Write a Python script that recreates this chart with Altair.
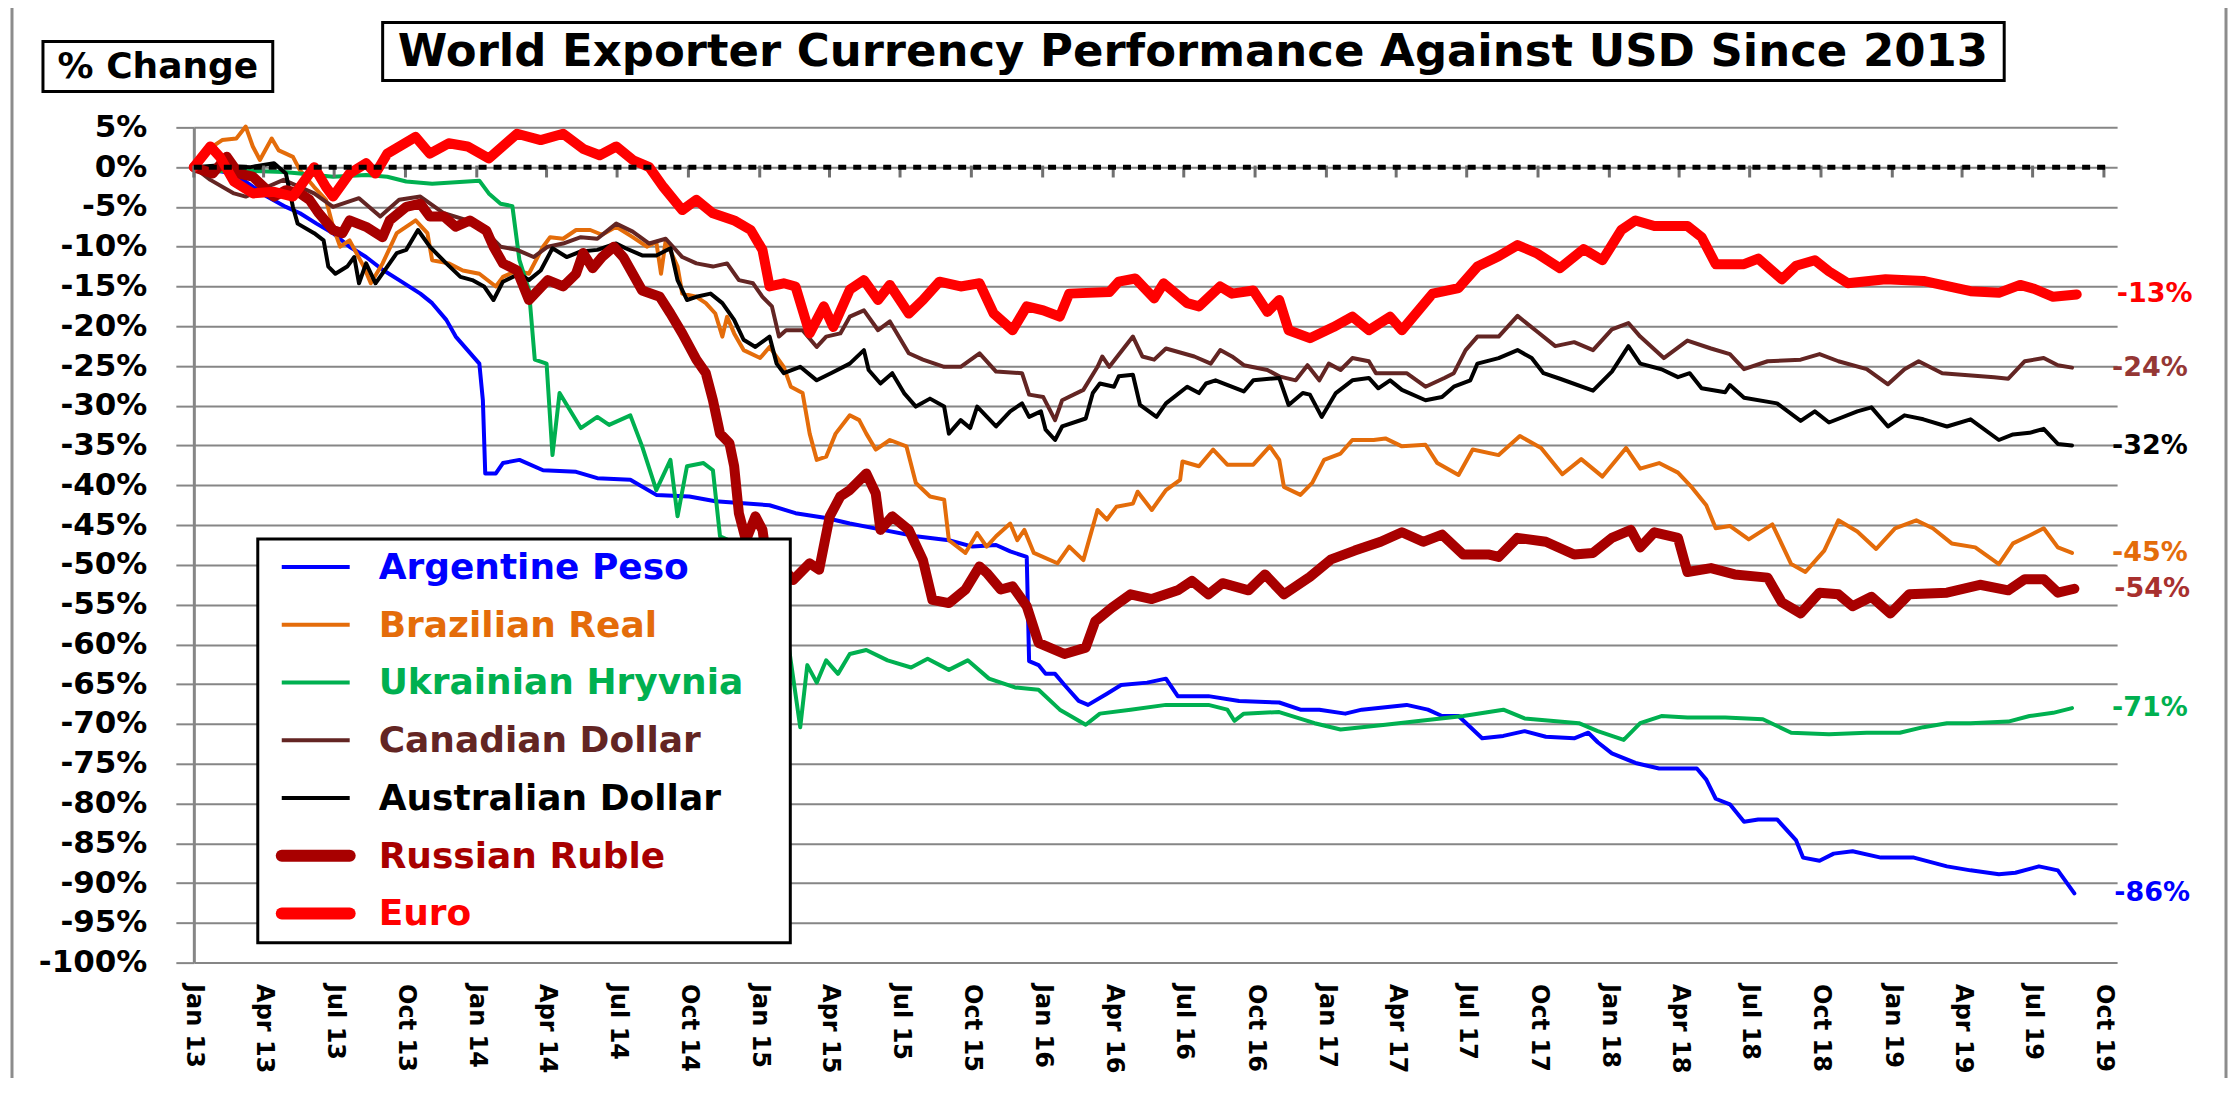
import altair as alt
import pandas as pd

# ---------------- data (months since Jan-2013, % change vs USD) ----------------
series_names = ["Argentine Peso", "Brazilian Real", "Ukrainian Hryvnia", "Canadian Dollar",
                "Australian Dollar", "Russian Ruble", "Euro"]
series_colors = ["#0000FF", "#E46C0A", "#00B050", "#632523", "#000000", "#A80000", "#FF0000"]
end_labels = ["-86%", "-45%", "-71%", "-24%", "-32%", "-54%", "-13%"]
end_label_colors = ["#0000FF", "#E46C0A", "#00B050", "#953735", "#000000", "#A8302E", "#FF0000"]

ars = [(0, 0), (1.7, -0.8), (3.1, -3.7), (3.9, -5.0), (4.5, -5.8), (5.2, -7.1), (5.9, -8.3), (6.6, -10.0),
       (7.3, -11.3), (8.0, -12.9), (8.7, -14.2), (9.6, -15.9), (10.1, -17.1), (10.7, -19.2), (11.1, -21.3),
       (11.6, -23.0), (12.1, -24.7), (12.25, -29.3), (12.35, -38.5), (12.8, -38.5), (13.1, -37.2), (13.8, -36.8),
       (14.8, -38.1), (16.2, -38.3), (17.1, -39.1), (18.5, -39.3), (19.6, -41.2), (21.0, -41.4), (22.1, -42.0),
       (24.4, -42.5), (25.5, -43.5), (26.8, -44.1), (27.8, -44.8), (29.2, -45.6), (30.6, -46.4), (32.0, -46.9),
       (33.0, -47.7), (34.0, -47.5), (34.6, -48.3), (35.3, -49.0), (35.4, -62.1), (35.8, -62.6), (36.1, -63.7),
       (36.5, -63.7), (36.9, -65.1), (37.5, -67.1), (37.9, -67.6), (38.7, -66.2), (39.3, -65.1), (40.4, -64.8),
       (41.2, -64.3), (41.7, -66.5), (43.0, -66.5), (44.3, -67.1), (46.0, -67.3), (46.9, -68.2), (47.7, -68.2),
       (48.8, -68.7), (49.5, -68.2), (51.4, -67.6), (52.3, -68.2), (52.9, -69.0), (53.6, -69.0), (54.6, -71.8),
       (55.5, -71.5), (56.4, -70.9), (57.3, -71.6), (58.5, -71.8), (59.1, -71.1), (59.5, -72.3), (60.1, -73.7),
       (61.1, -74.9), (62.1, -75.6), (63.7, -75.6), (64.1, -77.0), (64.5, -79.4), (65.1, -80.1), (65.7, -82.3),
       (66.3, -82.0), (67.1, -82.0), (67.9, -84.6), (68.2, -86.8), (68.9, -87.2), (69.5, -86.3), (70.3, -86.0),
       (71.5, -86.8), (72.9, -86.8), (74.3, -87.9), (75.3, -88.4), (76.5, -88.9), (77.2, -88.7), (78.2, -87.9),
       (79.0, -88.4), (79.7, -91.3)]

brl = [(0, 0), (0.8, 2.6), (1.2, 3.4), (1.8, 3.6), (2.2, 5.1), (2.5, 2.6), (2.8, 0.9), (3.3, 3.6), (3.6, 2.1),
       (4.2, 1.3), (4.5, -0.4), (5.1, -2.5), (5.6, -4.1), (5.9, -7.5), (6.2, -10.0), (6.6, -9.2), (7.2, -12.5),
       (7.5, -14.6), (8.0, -12.1), (8.6, -8.3), (9.2, -7.1), (9.4, -6.7), (9.9, -8.3), (10.1, -11.7), (10.8, -12.1),
       (11.4, -13.0), (12.1, -13.4), (12.8, -15.0), (13.1, -13.8), (13.7, -13.0), (14.2, -13.4), (14.8, -10.0),
       (15.1, -8.8), (15.65, -9.0), (16.2, -7.9), (16.8, -7.9), (17.3, -8.5), (17.9, -7.5), (18.6, -8.8),
       (19.2, -10.0), (19.6, -9.4), (19.8, -13.4), (20.0, -9.2), (20.5, -12.5), (20.7, -15.9), (21.3, -16.3),
       (21.7, -17.1), (22.1, -18.4), (22.4, -21.3), (22.6, -18.8), (22.9, -20.9), (23.3, -23.0), (24.0, -24.0),
       (24.4, -22.6), (25.0, -25.1), (25.3, -27.6), (25.8, -28.4), (26.1, -33.5), (26.4, -36.8), (26.8, -36.4),
       (27.2, -33.5), (27.8, -31.2), (28.2, -31.8), (28.5, -33.5), (28.9, -35.5), (29.5, -34.3), (30.2, -35.1),
       (30.6, -39.7), (31.2, -41.4), (31.8, -41.8), (32.0, -46.9), (32.7, -48.5), (33.2, -46.0), (33.6, -47.7),
       (34.0, -46.4), (34.6, -44.8), (34.9, -46.9), (35.2, -45.6), (35.6, -48.5), (36.6, -49.8), (37.1, -47.7),
       (37.7, -49.4), (38.3, -43.1), (38.7, -44.3), (39.1, -42.7), (39.8, -42.3), (40.0, -40.8), (40.6, -43.1),
       (41.2, -40.6), (41.8, -39.3), (41.9, -37.0), (42.6, -37.6), (43.2, -35.5), (43.8, -37.4), (44.9, -37.4),
       (45.6, -35.1), (46.0, -36.8), (46.2, -40.2), (46.9, -41.2), (47.4, -39.7), (47.9, -36.8), (48.6, -36.0),
       (49.1, -34.3), (50.0, -34.3), (50.5, -34.1), (51.2, -35.1), (52.2, -34.9), (52.7, -37.2), (53.6, -38.7),
       (54.2, -35.5), (55.3, -36.2), (56.2, -33.8), (57.1, -35.3), (58.0, -38.6), (58.8, -36.7), (59.7, -38.9),
       (60.7, -35.3), (61.3, -37.9), (62.1, -37.2), (62.9, -38.4), (63.5, -40.3), (64.1, -42.5), (64.5, -45.4),
       (65.1, -45.1), (65.9, -46.8), (66.9, -44.9), (67.7, -49.9), (68.3, -50.9), (69.1, -48.2), (69.7, -44.4),
       (70.5, -45.8), (71.3, -48.0), (72.1, -45.4), (73.0, -44.4), (73.7, -45.4), (74.5, -47.3), (75.5, -47.8),
       (76.5, -49.9), (77.1, -47.3), (77.8, -46.3), (78.4, -45.4), (79.0, -47.8), (79.6, -48.5)]

uah = [(0, 0), (0.5, -0.6), (1.7, -0.4), (3.8, -0.6), (4.5, -0.8), (5.9, -1.2), (7.3, -1.0), (8.2, -1.2),
       (9.0, -1.8), (10.1, -2.1), (11.6, -1.8), (12.1, -1.7), (12.5, -3.3), (13.0, -4.6), (13.5, -4.9),
       (13.8, -11.7), (14.2, -15.4), (14.45, -24.2), (14.95, -24.7), (15.2, -36.2), (15.5, -28.4), (16.4, -32.8),
       (17.1, -31.4), (17.6, -32.4), (18.5, -31.2), (19.0, -35.1), (19.6, -40.6), (20.2, -36.8), (20.5, -43.9),
       (20.9, -37.6), (21.6, -37.2), (22.0, -38.1), (22.3, -46.4), (23.5, -48.0), (24.5, -50.5), (25.2, -60.0),
       (25.7, -70.4), (26.0, -62.6), (26.4, -64.8), (26.8, -62.0), (27.3, -63.7), (27.8, -61.2), (28.5, -60.7),
       (29.4, -62.0), (30.4, -62.9), (31.1, -61.8), (32.0, -63.2), (32.8, -62.0), (33.7, -64.3), (34.8, -65.4),
       (35.8, -65.7), (36.7, -68.2), (37.8, -70.1), (38.4, -68.7), (39.7, -68.2), (41.2, -67.6), (43.0, -67.6),
       (43.8, -68.2), (44.1, -69.6), (44.5, -68.7), (46.0, -68.5), (47.5, -69.9), (48.6, -70.7), (50.5, -70.1),
       (52.0, -69.6), (53.8, -69.0), (55.5, -68.2), (56.4, -69.3), (57.5, -69.6), (58.7, -69.9), (59.5, -70.9),
       (60.6, -72.0), (61.3, -69.9), (62.2, -69.0), (63.3, -69.2), (64.9, -69.2), (66.5, -69.4), (67.7, -71.1),
       (69.3, -71.3), (70.9, -71.1), (72.3, -71.1), (73.3, -70.4), (74.3, -69.9), (75.3, -69.9), (76.9, -69.7),
       (77.8, -69.0), (78.8, -68.6), (79.6, -68.0)]

cad = [(0, 0), (0.7, -1.6), (1.7, -3.3), (2.2, -3.7), (3.1, -2.5), (3.8, -1.6), (4.5, -2.5), (5.1, -3.3),
       (5.9, -5.0), (7.0, -3.9), (7.9, -6.2), (8.7, -4.1), (9.6, -3.7), (10.6, -5.8), (11.6, -6.7), (12.3, -7.9),
       (13.0, -10.0), (13.7, -10.4), (14.4, -11.3), (15.0, -10.0), (15.65, -9.6), (16.4, -8.8), (17.1, -9.0),
       (17.9, -7.1), (18.6, -8.1), (19.3, -9.6), (20.0, -9.0), (20.7, -11.3), (21.3, -12.1), (22.0, -12.5),
       (22.6, -12.1), (23.1, -14.2), (23.7, -14.6), (24.1, -16.3), (24.5, -17.5), (24.8, -21.3), (25.1, -20.5),
       (25.8, -20.5), (26.4, -22.6), (26.8, -21.3), (27.4, -20.9), (27.8, -18.8), (28.4, -18.0), (29.0, -20.5),
       (29.5, -19.4), (30.3, -23.4), (30.9, -24.2), (31.8, -25.1), (32.5, -25.1), (33.3, -23.4), (34.0, -25.7),
       (35.1, -25.9), (35.4, -28.6), (36.0, -28.9), (36.5, -31.8), (36.8, -29.3), (37.7, -28.0), (38.3, -25.1),
       (38.5, -23.8), (38.8, -25.1), (39.8, -21.3), (40.2, -23.8), (40.7, -24.2), (41.2, -22.8), (42.4, -23.8),
       (43.1, -24.7), (43.5, -23.0), (44.0, -23.8), (44.5, -24.9), (45.5, -25.5), (46.0, -26.3), (46.7, -26.8),
       (47.2, -24.9), (47.7, -26.8), (48.1, -24.7), (48.6, -25.5), (49.1, -24.0), (49.8, -24.4), (50.1, -25.9),
       (51.4, -25.9), (52.2, -27.6), (53.0, -26.5), (53.4, -25.9), (53.9, -23.0), (54.4, -21.3), (55.3, -21.3),
       (56.1, -18.7), (56.9, -20.6), (57.7, -22.5), (58.5, -22.0), (59.3, -23.0), (60.1, -20.4), (60.8, -19.6),
       (61.3, -21.3), (62.3, -24.0), (63.3, -21.8), (64.3, -22.8), (65.1, -23.5), (65.7, -25.4), (66.7, -24.4),
       (68.1, -24.2), (68.9, -23.5), (69.7, -24.4), (70.9, -25.4), (71.8, -27.3), (72.5, -25.4), (73.1, -24.4),
       (74.1, -25.9), (76.3, -26.4), (76.9, -26.6), (77.6, -24.4), (78.4, -24.0), (79.0, -24.9), (79.6, -25.2)]

aud = [(0, 0), (1.0, 0.2), (2.4, 0.0), (3.4, 0.5), (3.9, -0.8), (4.2, -5.0), (4.4, -7.1), (5.1, -8.3),
       (5.5, -9.2), (5.7, -12.5), (6.0, -13.4), (6.5, -12.5), (6.8, -11.3), (7.0, -14.6), (7.3, -12.1),
       (7.7, -14.6), (8.2, -12.5), (8.6, -10.8), (9.0, -10.4), (9.5, -7.9), (10.0, -10.0), (10.7, -12.1),
       (11.3, -13.8), (11.8, -14.2), (12.3, -15.0), (12.7, -16.7), (13.1, -14.4), (13.8, -13.4), (14.2, -14.2),
       (14.7, -13.0), (15.2, -10.2), (15.8, -11.3), (16.4, -10.6), (17.1, -10.4), (17.9, -9.6), (18.3, -10.2),
       (19.0, -11.1), (19.6, -11.1), (20.2, -10.2), (20.5, -14.2), (20.9, -16.7), (21.3, -16.3), (21.9, -15.9),
       (22.4, -17.1), (22.9, -19.2), (23.3, -21.7), (23.8, -22.6), (24.4, -21.3), (24.7, -24.7), (25.0, -25.9),
       (25.7, -25.1), (26.4, -26.8), (27.0, -25.9), (27.8, -24.7), (28.4, -23.0), (28.6, -25.5), (29.1, -27.2),
       (29.6, -25.9), (30.1, -28.4), (30.6, -30.1), (31.2, -29.1), (31.8, -30.1), (32.0, -33.5), (32.5, -31.8),
       (32.9, -32.8), (33.2, -30.1), (34.0, -32.6), (34.6, -30.7), (35.1, -29.7), (35.4, -31.4), (35.9, -30.7),
       (36.1, -33.0), (36.5, -34.3), (36.8, -32.6), (37.8, -31.6), (38.1, -28.4), (38.4, -27.2), (39.0, -27.6),
       (39.2, -26.3), (39.8, -26.1), (40.1, -29.9), (40.8, -31.4), (41.2, -29.7), (42.1, -27.6), (42.6, -28.4),
       (42.9, -27.2), (43.3, -26.8), (44.5, -28.2), (44.9, -26.8), (46.0, -26.5), (46.4, -29.9), (47.0, -28.4),
       (47.3, -28.6), (47.8, -31.4), (48.4, -28.4), (49.1, -26.8), (49.8, -26.5), (50.2, -27.8), (50.7, -26.8),
       (51.2, -28.0), (52.2, -29.3), (52.9, -28.9), (53.4, -27.6), (54.1, -26.8), (54.4, -24.7), (55.3, -24.0),
       (56.1, -23.0), (56.7, -24.0), (57.2, -25.9), (57.9, -26.6), (59.3, -28.1), (60.1, -25.7), (60.8, -22.5),
       (61.3, -24.7), (62.2, -25.4), (62.9, -26.4), (63.4, -25.9), (63.9, -27.8), (64.9, -28.3), (65.1, -27.4),
       (65.7, -29.0), (67.1, -29.7), (68.1, -31.9), (68.7, -30.7), (69.3, -32.1), (70.5, -30.7), (71.1, -30.2),
       (71.8, -32.6), (72.5, -31.2), (73.3, -31.7), (74.3, -32.6), (75.3, -31.7), (76.5, -34.3), (77.1, -33.6),
       (77.8, -33.4), (78.4, -32.9), (79.0, -34.8), (79.6, -35.0)]

rub = [(0, 0), (0.8, -0.8), (1.4, 1.3), (1.9, -0.8), (2.5, -1.2), (3.4, -3.7), (3.9, -2.9), (4.5, -3.3),
       (4.9, -4.1), (5.3, -5.8), (5.9, -7.9), (6.3, -8.3), (6.6, -6.7), (7.3, -7.5), (8.0, -8.8), (8.3, -6.7),
       (9.0, -5.0), (9.6, -4.6), (10.0, -6.2), (10.6, -6.2), (11.1, -7.5), (11.7, -6.7), (12.4, -8.0),
       (12.7, -10.0), (13.1, -12.1), (13.7, -13.0), (14.2, -16.7), (15.0, -14.2), (15.65, -15.0), (16.2, -13.4),
       (16.5, -10.8), (16.9, -12.7), (17.3, -11.3), (17.8, -10.0), (18.2, -11.3), (18.6, -13.4), (19.0, -15.5),
       (19.75, -16.3), (20.2, -18.4), (20.7, -20.9), (21.3, -24.2), (21.7, -25.9), (22.0, -29.3), (22.3, -33.5),
       (22.7, -34.7), (22.9, -37.6), (23.1, -43.5), (23.4, -46.9), (23.8, -43.9), (24.1, -45.6), (24.6, -56.0),
       (25.0, -50.5), (25.4, -51.9), (26.1, -49.8), (26.5, -50.6), (26.95, -43.9), (27.4, -41.4), (27.8, -40.6),
       (28.1, -39.7), (28.5, -38.5), (28.9, -41.0), (29.1, -45.6), (29.6, -43.9), (30.3, -45.6), (30.9, -49.4),
       (31.3, -54.4), (32.0, -54.8), (32.7, -53.1), (33.3, -50.2), (33.6, -51.0), (34.2, -53.1), (34.7, -52.7),
       (35.3, -55.2), (35.8, -59.8), (36.9, -61.2), (37.8, -60.4), (38.2, -57.1), (38.9, -55.4), (39.7, -53.7),
       (40.6, -54.3), (41.7, -53.2), (42.3, -52.0), (43.0, -53.7), (43.6, -52.3), (44.7, -53.2), (45.4, -51.2),
       (46.2, -53.7), (47.3, -51.5), (48.2, -49.3), (49.2, -48.2), (50.3, -47.1), (51.2, -45.9), (52.1, -47.1),
       (52.9, -46.2), (53.8, -48.7), (54.9, -48.7), (55.3, -49.0), (56.1, -46.6), (57.3, -47.1), (58.5, -48.7),
       (59.3, -48.5), (60.1, -46.6), (60.9, -45.6), (61.3, -47.8), (61.9, -45.9), (62.9, -46.6), (63.3, -50.9),
       (64.3, -50.4), (65.3, -51.2), (66.7, -51.6), (67.3, -54.7), (68.1, -56.1), (68.9, -53.5), (69.7, -53.7),
       (70.3, -55.2), (71.1, -54.0), (71.9, -56.1), (72.7, -53.7), (74.3, -53.5), (75.7, -52.5), (76.9, -53.2),
       (77.6, -51.8), (78.4, -51.8), (79.0, -53.5), (79.7, -53.0)]

eur = [(0, 0), (0.7, 2.6), (1.1, 1.3), (1.7, -1.8), (2.5, -3.3), (3.4, -3.1), (4.2, -3.7), (5.1, 0.0),
       (5.6, -2.5), (5.9, -3.7), (6.6, -0.8), (7.3, 0.5), (7.7, -0.8), (8.2, 1.7), (9.4, 3.8), (10.0, 1.7),
       (10.8, 3.0), (11.6, 2.6), (12.5, 1.1), (13.7, 4.2), (14.7, 3.4), (15.65, 4.2), (16.5, 2.3), (17.2, 1.5),
       (17.9, 2.6), (18.6, 0.9), (19.3, 0.0), (19.9, -2.5), (20.7, -5.4), (21.3, -4.1), (22.0, -5.8), (22.9, -6.7),
       (23.6, -7.9), (24.1, -10.4), (24.4, -15.0), (25.0, -14.6), (25.5, -15.0), (26.1, -20.9), (26.7, -17.5),
       (27.1, -20.1), (27.8, -15.4), (28.4, -14.2), (29.0, -16.7), (29.5, -14.8), (30.3, -18.4), (30.9, -16.7),
       (31.6, -14.4), (32.5, -15.0), (33.3, -14.6), (33.9, -18.4), (34.7, -20.5), (35.3, -17.5), (36.0, -18.0),
       (36.7, -18.8), (37.1, -15.9), (38.8, -15.7), (39.2, -14.4), (39.9, -14.0), (40.7, -16.5), (41.1, -14.6),
       (42.1, -17.1), (42.6, -17.5), (43.5, -15.0), (44.0, -15.9), (44.9, -15.5), (45.5, -18.2), (46.0, -16.7),
       (46.4, -20.5), (47.3, -21.5), (48.3, -20.1), (49.1, -18.8), (49.8, -20.5), (50.7, -18.8), (51.2, -20.5),
       (52.5, -15.9), (53.6, -15.2), (54.4, -12.5), (55.3, -11.2), (56.1, -9.8), (56.9, -10.8), (57.9, -12.7),
       (58.9, -10.3), (59.7, -11.7), (60.5, -7.9), (61.1, -6.7), (61.9, -7.4), (63.3, -7.4), (63.9, -8.8),
       (64.5, -12.2), (65.7, -12.2), (66.3, -11.5), (67.3, -14.1), (67.9, -12.4), (68.7, -11.7), (69.3, -13.1),
       (70.1, -14.6), (71.7, -14.1), (73.3, -14.3), (75.3, -15.6), (76.5, -15.8), (77.4, -14.8), (78.0, -15.3),
       (78.8, -16.3), (79.8, -16.0)]

series_points = [ars, brl, uah, cad, aud, rub, eur]
series_widths = [4, 4, 4, 4, 4, 10, 10]

y_ticks = list(range(-100, 6, 5))

# ---------------- build tables ----------------
BASE = pd.Timestamp("2013-01-01")


def month_to_date(m):
    return (BASE + pd.Timedelta(days=m * 30.4375)).strftime("%Y-%m-%dT%H:%M:%S")


rows = []
for name, pts in zip(series_names, series_points):
    for m, v in pts:
        rows.append({"name": name, "date": month_to_date(m), "value": v})
df = pd.DataFrame(rows)

last_rows = []
for name, pts, lab, col in zip(series_names, series_points, end_labels, end_label_colors):
    m, v = pts[-1]
    last_rows.append({"name": name, "date": month_to_date(m), "value": v, "label": lab, "col": col})
df_last = pd.DataFrame(last_rows)

quarters = [alt.DateTime(year=y, month=mo, date=1) for y in range(2013, 2020) for mo in (1, 4, 7, 10)]
quarter_ticks = pd.DataFrame({
    "date": [f"{y}-{mo:02d}-01T00:00:00" for y in range(2013, 2020) for mo in (1, 4, 7, 10)],
})
quarter_ticks["value"] = 0.2
quarter_ticks["value_end"] = -1.3
zero_line = pd.DataFrame({"value": [0]})

GRAY = "#868686"
FONT = "DejaVu Sans"

W, H = 1925, 836

x_scale = alt.Scale(domain=[alt.DateTime(year=2013, month=1, date=1),
                            alt.DateTime(year=2019, month=10, date=18)])
y_scale = alt.Scale(domain=[-100, 5], nice=False)

x_axis = alt.Axis(values=quarters, labelExpr="timeFormat(datum.value, '%b %y')", title=None,
                  grid=False, domain=False, ticks=False, tickSize=0, labelAngle=90,
                  labelAlign="left", labelBaseline="middle", labelPadding=21,
                  labelFont=FONT, labelFontSize=24, labelFontWeight="bold", labelColor="black",
                  labelOverlap=False, labelFlush=False, labelBound=False, zindex=1)
y_axis = alt.Axis(values=y_ticks, labelExpr="datum.value + '%'", title=None,
                  grid=True, gridColor=GRAY, gridWidth=2, domain=True, domainColor=GRAY,
                  domainWidth=3, ticks=True, tickColor=GRAY, tickWidth=2, tickSize=18,
                  labelPadding=29, labelFont=FONT, labelFontSize=31, labelFontWeight="bold",
                  labelColor="black", labelOverlap=False, labelBound=False, labelFlush=False)

X = alt.X("date:T", scale=x_scale, axis=x_axis)
Y = alt.Y("value:Q", scale=y_scale, axis=y_axis)

one = alt.Data(values=[{}])

layers = []

# outer frame of the chart (no fill so the axes stay visible)
layers.append(alt.Chart(one).mark_rect(fillOpacity=0, stroke="#8c8c8c", strokeWidth=3).encode(
    x=alt.value(-182), x2=alt.value(2034), y=alt.value(-122), y2=alt.value(965)))

# title box and title
layers.append(alt.Chart(one).mark_rect(fill="white", stroke="black", strokeWidth=3).encode(
    x=alt.value(189), x2=alt.value(1812), y=alt.value(-105), y2=alt.value(-47)))
layers.append(alt.Chart(one).mark_text(
    text="World Exporter Currency Performance Against USD Since 2013", font=FONT, fontSize=45,
    fontWeight="bold", color="black", align="center", baseline="middle").encode(
    x=alt.value(1000), y=alt.value(-75)))

# "% Change" box
layers.append(alt.Chart(one).mark_rect(fill="white", stroke="black", strokeWidth=3).encode(
    x=alt.value(-151), x2=alt.value(79), y=alt.value(-86), y2=alt.value(-36)))
layers.append(alt.Chart(one).mark_text(
    text="% Change", font=FONT, fontSize=36, fontWeight="bold", color="black",
    align="center", baseline="middle").encode(x=alt.value(-36), y=alt.value(-60)))

# series lines (first, so they carry the axes)
for name, col, w in zip(series_names, series_colors, series_widths):
    layers.append(alt.Chart(df).transform_filter(alt.datum.name == name).mark_line(
        color=col, strokeWidth=w, strokeJoin="round", strokeCap="round").encode(
        x=X, y=Y, order=alt.Order("date:T")))

# quarter ticks on the zero line
layers.append(alt.Chart(quarter_ticks).mark_rule(color="#707070", strokeWidth=3).encode(
    x=X, y=Y, y2="value_end:Q"))

# zero line (dotted)
layers.append(alt.Chart(zero_line).mark_rule(color="black", strokeWidth=5, strokeDash=[8, 7]).encode(
    x=alt.value(0), x2=alt.value(1913), y=Y))

# end labels
layers.append(alt.Chart(df_last).mark_text(
    font=FONT, fontSize=27, fontWeight="bold", align="left", baseline="middle", dx=40).encode(
    x=X, y=Y, text="label:N", color=alt.Color("col:N", scale=None, legend=None)))

# manual legend
layers.append(alt.Chart(one).mark_rect(fill="white", stroke="black", strokeWidth=3).encode(
    x=alt.value(64), x2=alt.value(597), y=alt.value(412), y2=alt.value(816)))
for i, (name, col, w) in enumerate(zip(series_names, series_colors, series_widths)):
    ly = 440 + i * 57.8
    layers.append(alt.Chart(one).mark_rule(color=col, strokeWidth=w + 2 if w > 5 else w,
                                           strokeCap="round" if w > 5 else "butt").encode(
        x=alt.value(88), x2=alt.value(156), y=alt.value(ly)))
    layers.append(alt.Chart(one).mark_text(
        text=name, font=FONT, fontSize=36, fontWeight="bold", color=col,
        align="left", baseline="middle").encode(x=alt.value(185), y=alt.value(ly + 1)))

chart = alt.layer(*layers).properties(
    width=W, height=H,
    padding={"left": 186, "top": 119, "right": 112, "bottom": 115},
    autosize=alt.AutoSizeParams(type="none"),
    background="white",
).configure_view(strokeWidth=0)

chart.save("out.html", embed_options={"renderer": "svg", "actions": False})
